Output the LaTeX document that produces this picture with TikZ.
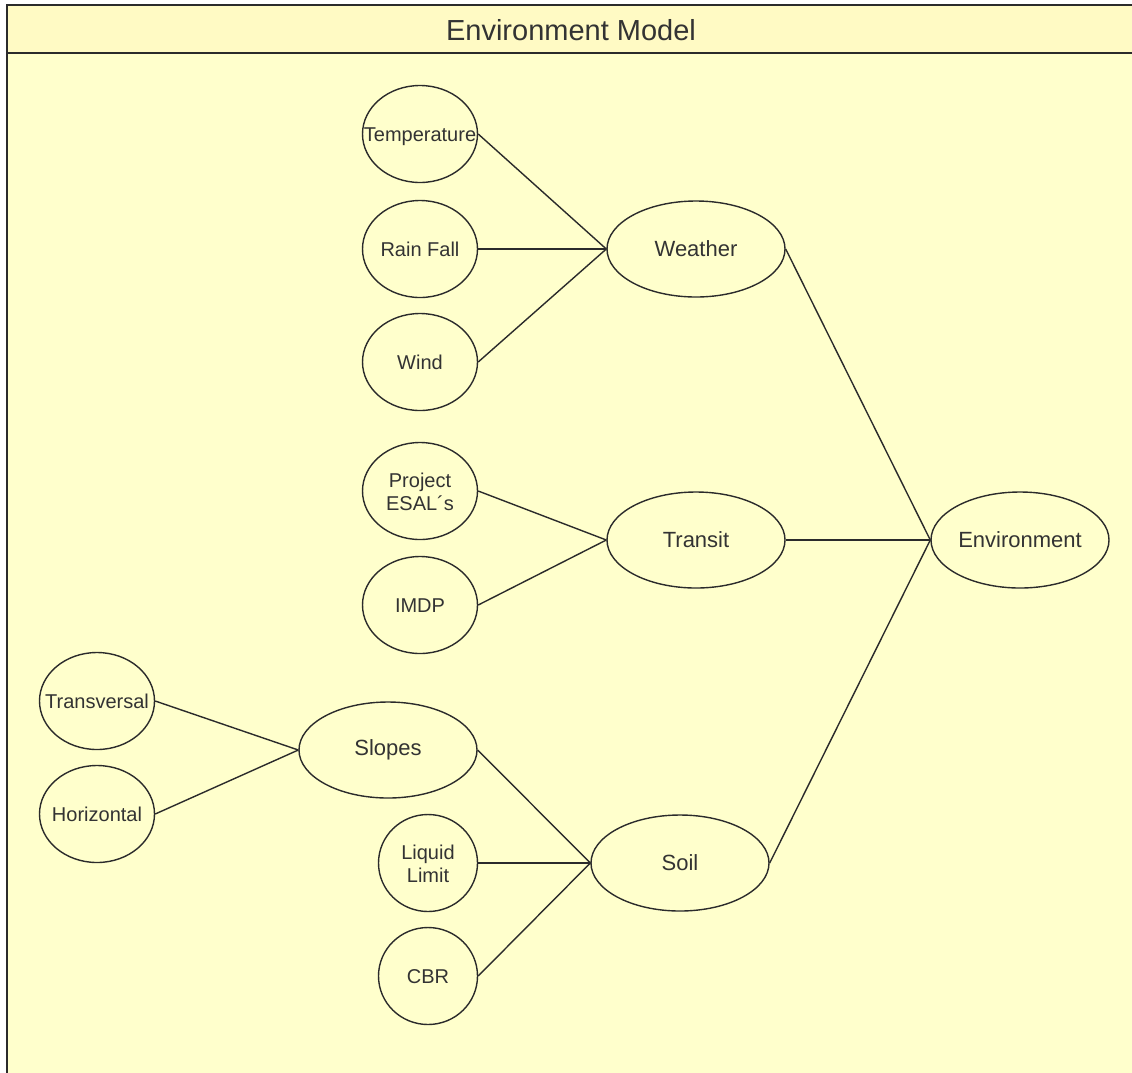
\documentclass[tikz,border=0pt]{standalone}
\usepackage{fontspec}
\setmainfont{Liberation Sans}
\usetikzlibrary{shapes.geometric}
\definecolor{bodyfill}{HTML}{FFFFCC}
\definecolor{headfill}{HTML}{FFFAC4}
\definecolor{inkc}{HTML}{2B2B2B}
\definecolor{textc}{HTML}{333333}
\newcommand{\zb}[1]{\makebox[0pt][c]{\raisebox{-3pt}[\height][\depth]{\begin{tabular}{@{}c@{}}#1\end{tabular}}}}
\tikzset{
  bigell/.style={ellipse, draw=inkc, line width=1.4pt, minimum width=178pt, minimum height=96pt, inner sep=0pt, text=textc, font=\fontsize{22}{24}\selectfont, align=center},
  smallell/.style={ellipse, draw=inkc, line width=1.4pt, minimum width=115pt, minimum height=97pt, inner sep=0pt, text=textc, font=\fontsize{20}{23}\selectfont},
  tinyell/.style={ellipse, draw=inkc, line width=1.4pt, minimum width=99pt, minimum height=97pt, inner sep=0pt, text=textc, font=\fontsize{20}{23}\selectfont},
  conn/.style={draw=inkc, line width=1.4pt},
}
\begin{document}
\begin{tikzpicture}[x=1pt, y=-1pt]
\useasboundingbox (0,0) rectangle (1132,1072);
\clip (0,0) rectangle (1132,1072);
\fill[white] (0,0) rectangle (1132,1072);
\fill[headfill] (7,5) rectangle (1140,53);
\fill[bodyfill] (7,53) rectangle (1140,1080);
\draw[inkc, line width=2pt] (1140,5) -- (7,5) -- (7,1080);
\draw[inkc, line width=2pt] (7,53) -- (1140,53);
\node[text=textc, font=\fontsize{29}{32}\selectfont] (title) at (571,30) {Environment Model};

\node[smallell] (temp) at (420,134) {\zb{Temperature}};
\node[smallell] (rain) at (420,249) {\zb{Rain Fall}};
\node[smallell] (wind) at (420,362) {\zb{Wind}};
\node[bigell] (weather) at (696,249) {Weather};

\node[smallell] (esal) at (420,491) {\zb{Project\\ESAL´s}};
\node[smallell] (imdp) at (420,605) {\zb{IMDP}};
\node[bigell] (transit) at (696,540) {Transit};

\node[bigell] (env) at (1020,540) {Environment};

\node[smallell] (trans) at (97,701) {\zb{Transversal}};
\node[smallell] (horiz) at (97,814) {\zb{Horizontal}};
\node[bigell] (slopes) at (388,750) {Slopes};

\node[tinyell] (liquid) at (428,863) {\zb{Liquid\\Limit}};
\node[tinyell] (cbr) at (428,976) {\zb{CBR}};
\node[bigell] (soil) at (680,863) {Soil};

\draw[conn] (temp.east) -- (weather.west);
\draw[conn] (rain.east) -- (weather.west);
\draw[conn] (wind.east) -- (weather.west);
\draw[conn] (esal.east) -- (transit.west);
\draw[conn] (imdp.east) -- (transit.west);
\draw[conn] (trans.east) -- (slopes.west);
\draw[conn] (horiz.east) -- (slopes.west);
\draw[conn] (slopes.east) -- (soil.west);
\draw[conn] (liquid.east) -- (soil.west);
\draw[conn] (cbr.east) -- (soil.west);
\draw[conn] (weather.east) -- (env.west);
\draw[conn] (transit.east) -- (env.west);
\draw[conn] (soil.east) -- (env.west);
\end{tikzpicture}
\end{document}
